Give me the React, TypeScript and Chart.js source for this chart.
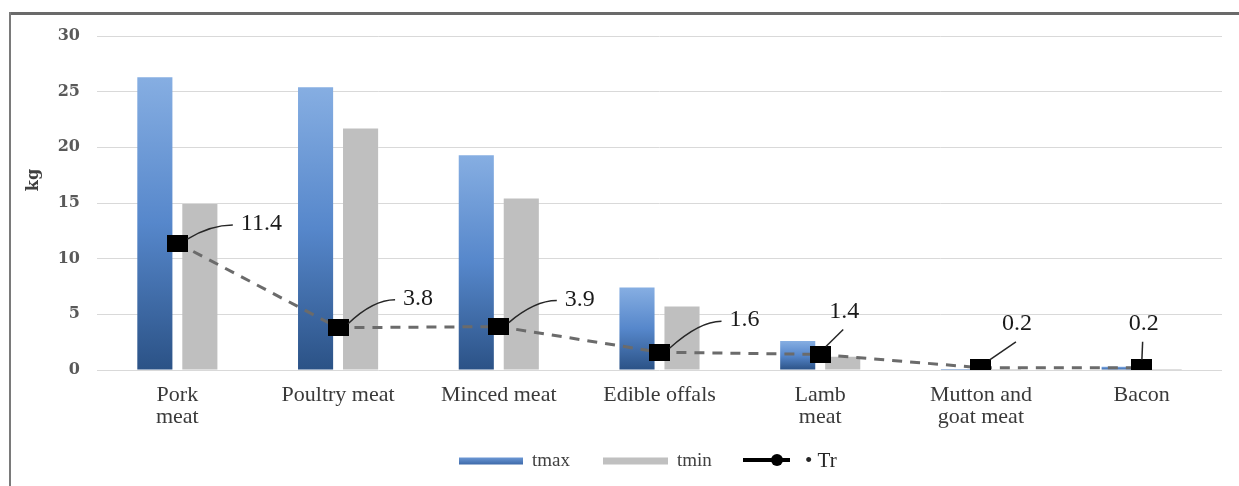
import React, { useEffect, useRef } from "react";
import { Chart, registerables } from "chart.js";

Chart.register(...registerables);

const categories: (string | string[])[] = [
  ["Pork", "meat"],
  "Poultry meat",
  "Minced meat",
  "Edible offals",
  ["Lamb", "meat"],
  ["Mutton and", "goat meat"],
  "Bacon",
];
const tmax = [26.3, 25.4, 19.3, 7.4, 2.6, 0.1, 0.3];
const tmin = [14.9, 21.7, 15.4, 5.7, 1.2, 0.1, 0.1];
const tr = [11.4, 3.8, 3.9, 1.6, 1.4, 0.2, 0.2];
const yTicks = [0, 5, 10, 15, 20, 25, 30];
const seriesNames = ["tmax", "tmin", "• Tr"];
const yTitle = "kg";

// label placement (text centre relative to marker), layout only
const labelOffsets: [number, number][] = [
  [84, -19],
  [80, -29],
  [81, -27],
  [85, -32],
  [24, -43],
  [36, -44],
  [2, -44],
];

export default function App() {
  const ref = useRef<HTMLCanvasElement | null>(null);

  useEffect(() => {
    const canvas = ref.current;
    if (!canvas) return;

    const marker = document.createElement("canvas");
    marker.width = 21;
    marker.height = 17;
    const mctx = marker.getContext("2d")!;
    mctx.fillStyle = "#000";
    mctx.fillRect(0, 0, 21, 17);

    const gradFn = (c: any) => {
      const chart = c.chart;
      if (!chart.chartArea || c.type !== "data" || !chart.scales?.y) return "#4f7fc0";
      const ys = chart.scales.y;
      const top = ys.getPixelForValue(c.raw as number);
      const bottom = ys.getPixelForValue(0);
      if (!isFinite(top) || !isFinite(bottom) || bottom - top < 1) return "#4f7fc0";
      const g = chart.ctx.createLinearGradient(0, top, 0, bottom);
      g.addColorStop(0, "#86aee2");
      g.addColorStop(0.5, "#5687cb");
      g.addColorStop(1, "#2b5286");
      return g;
    };

    const decorPlugin = {
      id: "decor",
      afterDatasetsDraw(chart: any) {
        const ctx = chart.ctx as CanvasRenderingContext2D;
        const meta = chart.getDatasetMeta(2);
        ctx.save();
        ctx.font = "24px 'Liberation Serif'";
        ctx.textBaseline = "middle";
        ctx.textAlign = "center";
        meta.data.forEach((pt: any, i: number) => {
          const x = pt.x;
          const y = pt.y;
          const [dx, dy] = labelOffsets[i];
          const tx = x + dx;
          const ty = y + dy;
          const text = tr[i].toFixed(1);
          const w = ctx.measureText(text).width;
          const left = tx - w / 2;
          ctx.strokeStyle = "#262626";
          ctx.lineWidth = 1.5;
          ctx.beginPath();
          if (i < 4) {
            const sx = x + 10;
            const sy = y - 4;
            const ex = left - 8;
            const ey = ty + 1;
            ctx.moveTo(sx, sy);
            ctx.quadraticCurveTo(ex - 22, ey, ex, ey);
          } else {
            const ex = left + 14;
            const ey = ty + 18;
            const sx = x + (ex - x) * 0.25;
            const sy = y - 8;
            ctx.moveTo(sx, sy);
            ctx.lineTo(ex, ey);
          }
          ctx.stroke();
          ctx.fillStyle = "#1a1a1a";
          ctx.fillText(text, tx, ty);
        });
        ctx.restore();
      },
      afterDraw(chart: any) {
        const ctx = chart.ctx as CanvasRenderingContext2D;
        ctx.save();
        // frame
        ctx.fillStyle = "#6a6a6a";
        ctx.fillRect(9, 12, 1239 - 9, 3);
        ctx.fillStyle = "#7a7a7a";
        ctx.fillRect(9, 12, 2, 486 - 12);

        // y title
        ctx.save();
        ctx.translate(34, 180);
        ctx.rotate(-Math.PI / 2);
        ctx.font = "bold 16px 'DejaVu Serif'";
        ctx.fillStyle = "#404040";
        ctx.textAlign = "center";
        ctx.textBaseline = "middle";
        ctx.fillText(yTitle, 0, 0);
        ctx.restore();

        // legend
        const ly = 461;
        ctx.font = "19px 'Liberation Serif'";
        ctx.textBaseline = "middle";
        ctx.textAlign = "left";
        const lg = ctx.createLinearGradient(0, ly - 4, 0, ly + 4);
        lg.addColorStop(0, "#6f9bd8");
        lg.addColorStop(1, "#3a66a6");
        ctx.fillStyle = lg;
        ctx.fillRect(459, ly - 3.5, 64, 7);
        ctx.fillStyle = "#404040";
        ctx.fillText(seriesNames[0], 532, ly);
        ctx.fillStyle = "#c0c0c0";
        ctx.fillRect(603, ly - 3.5, 65, 7);
        ctx.fillStyle = "#404040";
        ctx.fillText(seriesNames[1], 677, ly);
        ctx.strokeStyle = "#000";
        ctx.lineWidth = 4;
        ctx.beginPath();
        ctx.moveTo(743, ly - 1);
        ctx.lineTo(790, ly - 1);
        ctx.stroke();
        ctx.fillStyle = "#000";
        ctx.beginPath();
        ctx.arc(777, ly - 1, 6, 0, Math.PI * 2);
        ctx.fill();
        ctx.fillStyle = "#262626";
        ctx.font = "21px 'Liberation Serif'";
        ctx.fillText(seriesNames[2], 805, ly);
        ctx.restore();
      },
    };

    const chart = new Chart(canvas, {
      type: "bar",
      data: {
        labels: categories as any,
        datasets: [
          {
            type: "bar",
            label: "tmax",
            data: tmax,
            order: 2,
            backgroundColor: gradFn as any,
            categoryPercentage: 0.56,
            barPercentage: 0.78,
          },
          {
            type: "bar",
            label: "tmin",
            data: tmin,
            order: 2,
            backgroundColor: "#bfbfbf",
            categoryPercentage: 0.56,
            barPercentage: 0.78,
          },
          {
            type: "line",
            label: "Tr",
            data: tr,
            order: 0,
            borderColor: "#6b6b6b",
            borderWidth: 3,
            borderDash: [10, 8],
            backgroundColor: "#000",
            pointStyle: marker as any,
            pointRadius: 10,
            pointHoverRadius: 10,
            tension: 0,
            fill: false,
          },
        ],
      },
      options: {
        responsive: false,
        animation: false,
        events: [],
        layout: { padding: { top: 36, right: 17, left: 0, bottom: 0 } },
        plugins: {
          legend: { display: false },
          tooltip: { enabled: false },
          title: { display: false },
        },
        scales: {
          x: {
            grid: { display: false, drawTicks: false },
            border: { display: false },
            ticks: {
              padding: 14,
              color: "#3a3a3a",
              font: { family: "'Liberation Serif'", size: 22, lineHeight: 1.0 },
              maxRotation: 0,
              autoSkip: false,
            },
            afterFit: (s: any) => {
              s.height = 116;
            },
          },
          y: {
            min: 0,
            max: 30,
            afterBuildTicks: (s: any) => {
              s.ticks = yTicks.map((v) => ({ value: v }));
            },
            grid: { color: "#d9d9d9", lineWidth: 1, drawTicks: false },
            border: { display: false },
            ticks: {
              padding: 17,
              color: "#595959",
              font: { family: "'DejaVu Serif'", size: 16, weight: "bold" },
            },
            afterFit: (s: any) => {
              s.width = 97;
            },
          },
        },
      },
      plugins: [decorPlugin],
    });

    return () => chart.destroy();
  }, []);

  return (
    <div
      style={{
        position: "absolute",
        left: 0,
        top: 0,
        width: 1239,
        height: 486,
        background: "#fff",
      }}
    >
      <canvas ref={ref} width={1239} height={486} style={{ display: "block" }} />
    </div>
  );
}
